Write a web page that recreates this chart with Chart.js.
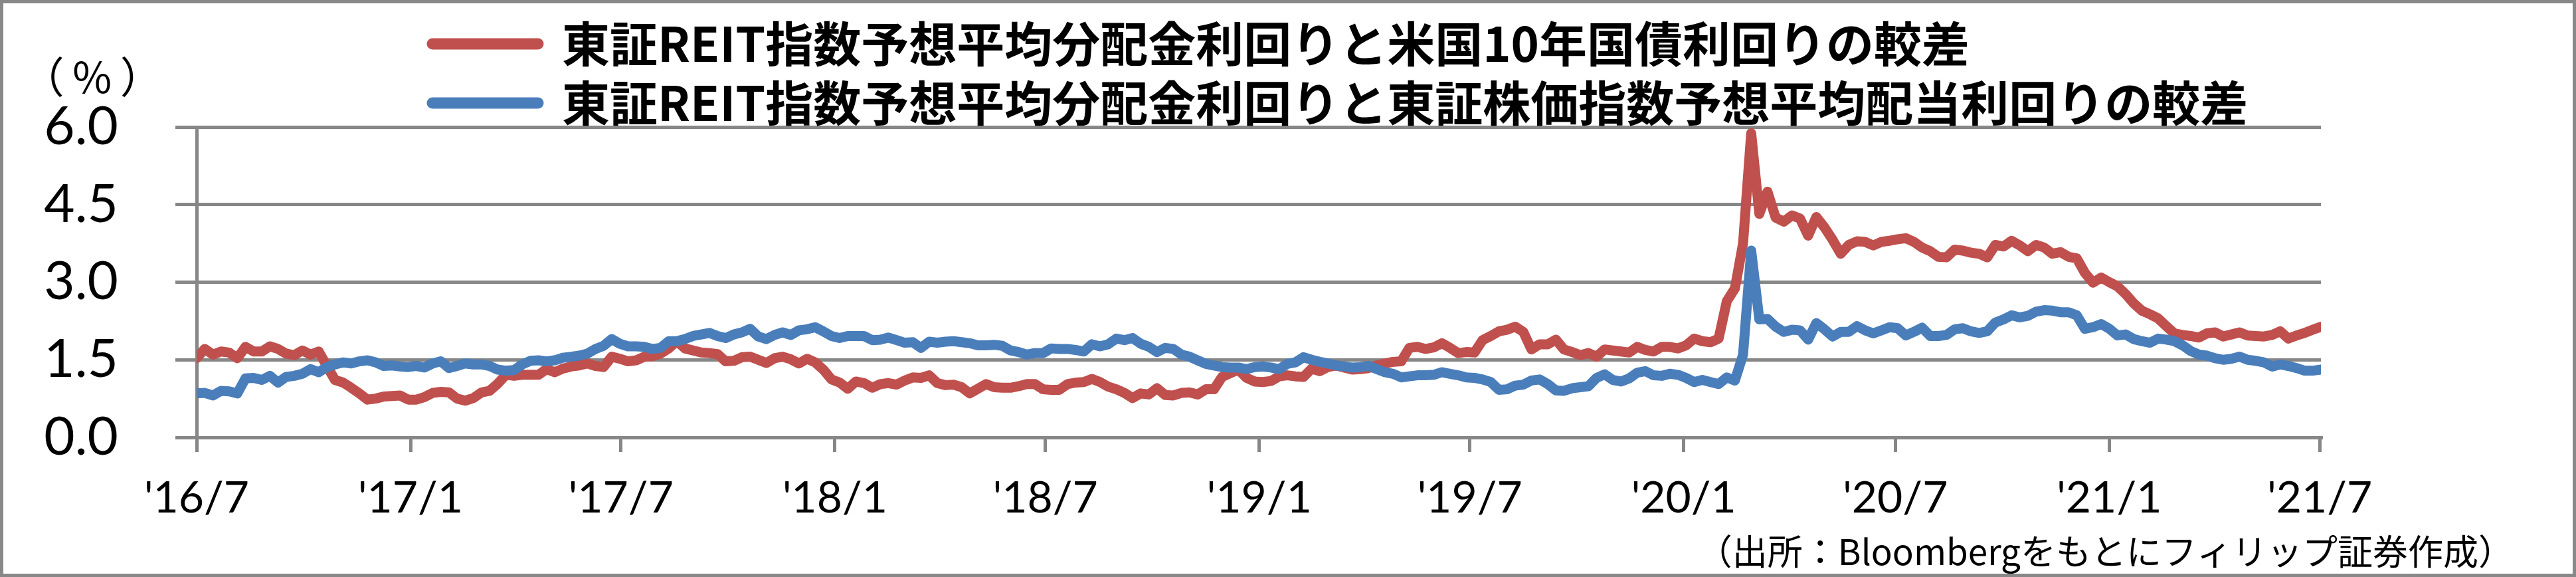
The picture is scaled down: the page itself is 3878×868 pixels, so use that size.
<!DOCTYPE html>
<html>
<head>
<meta charset="utf-8">
<script src="https://cdn.jsdelivr.net/npm/chart.js@4.4.0/dist/chart.umd.min.js"></script>
<style>
html,body{margin:0;padding:0;background:#fff;}
#wrap{position:relative;width:3878px;height:868px;background:#fff;box-shadow:inset 0 0 0 5px #888;}
#c{position:absolute;left:0;top:0;}
</style>
</head>
<body>
<div id="wrap"><canvas id="c" width="3878" height="868"></canvas></div>
<script>
// ---- data (weekly, Friday closes) ----
const dates = [
'2016-07-01','2016-07-08','2016-07-15','2016-07-22','2016-07-29','2016-08-05','2016-08-12','2016-08-19','2016-08-26','2016-09-02','2016-09-09','2016-09-16','2016-09-23','2016-09-30','2016-10-07','2016-10-14','2016-10-21','2016-10-28','2016-11-04','2016-11-11','2016-11-18','2016-11-25','2016-12-02','2016-12-09','2016-12-16','2016-12-23','2016-12-30',
'2017-01-06','2017-01-13','2017-01-20','2017-01-27','2017-02-03','2017-02-10','2017-02-17','2017-02-24','2017-03-03','2017-03-10','2017-03-17','2017-03-24','2017-03-31','2017-04-07','2017-04-14','2017-04-21','2017-04-28','2017-05-05','2017-05-12','2017-05-19','2017-05-26','2017-06-02','2017-06-09','2017-06-16','2017-06-23','2017-06-30','2017-07-07','2017-07-14','2017-07-21','2017-07-28','2017-08-04','2017-08-11','2017-08-18','2017-08-25','2017-09-01','2017-09-08','2017-09-15','2017-09-22','2017-09-29','2017-10-06','2017-10-13','2017-10-20','2017-10-27','2017-11-03','2017-11-10','2017-11-17','2017-11-24','2017-12-01','2017-12-08','2017-12-15','2017-12-22','2017-12-29',
'2018-01-05','2018-01-12','2018-01-19','2018-01-26','2018-02-02','2018-02-09','2018-02-16','2018-02-23','2018-03-02','2018-03-09','2018-03-16','2018-03-23','2018-03-30','2018-04-06','2018-04-13','2018-04-20','2018-04-27','2018-05-04','2018-05-11','2018-05-18','2018-05-25','2018-06-01','2018-06-08','2018-06-15','2018-06-22','2018-06-29','2018-07-06','2018-07-13','2018-07-20','2018-07-27','2018-08-03','2018-08-10','2018-08-17','2018-08-24','2018-08-31','2018-09-07','2018-09-14','2018-09-21','2018-09-28','2018-10-05','2018-10-12','2018-10-19','2018-10-26','2018-11-02','2018-11-09','2018-11-16','2018-11-23','2018-11-30','2018-12-07','2018-12-14','2018-12-21','2018-12-28',
'2019-01-04','2019-01-11','2019-01-18','2019-01-25','2019-02-01','2019-02-08','2019-02-15','2019-02-22','2019-03-01','2019-03-08','2019-03-15','2019-03-22','2019-03-29','2019-04-05','2019-04-12','2019-04-19','2019-04-26','2019-05-03','2019-05-10','2019-05-17','2019-05-24','2019-05-31','2019-06-07','2019-06-14','2019-06-21','2019-06-28','2019-07-05','2019-07-12','2019-07-19','2019-07-26','2019-08-02','2019-08-09','2019-08-16','2019-08-23','2019-08-30','2019-09-06','2019-09-13','2019-09-20','2019-09-27','2019-10-04','2019-10-11','2019-10-18','2019-10-25','2019-11-01','2019-11-08','2019-11-15','2019-11-22','2019-11-29','2019-12-06','2019-12-13','2019-12-20','2019-12-27',
'2020-01-03','2020-01-10','2020-01-17','2020-01-24','2020-01-31','2020-02-07','2020-02-14','2020-02-21','2020-02-28','2020-03-06','2020-03-13','2020-03-20','2020-03-27','2020-04-03','2020-04-10','2020-04-17','2020-04-24','2020-05-01','2020-05-08','2020-05-15','2020-05-22','2020-05-29','2020-06-05','2020-06-12','2020-06-19','2020-06-26','2020-07-03','2020-07-10','2020-07-17','2020-07-24','2020-07-31','2020-08-07','2020-08-14','2020-08-21','2020-08-28','2020-09-04','2020-09-11','2020-09-18','2020-09-25','2020-10-02','2020-10-09','2020-10-16','2020-10-23','2020-10-30','2020-11-06','2020-11-13','2020-11-20','2020-11-27','2020-12-04','2020-12-11','2020-12-18','2020-12-25',
'2021-01-01','2021-01-08','2021-01-15','2021-01-22','2021-01-29','2021-02-05','2021-02-12','2021-02-19','2021-02-26','2021-03-05','2021-03-12','2021-03-19','2021-03-26','2021-04-02','2021-04-09','2021-04-16','2021-04-23','2021-04-30','2021-05-07','2021-05-14','2021-05-21','2021-05-28','2021-06-04','2021-06-11','2021-06-18','2021-06-25','2021-07-02'
];

// 東証REIT予想分配金利回り − 米国10年国債利回り (%)
const spreadVsUST10 = [
1.53,1.71,1.60,1.66,1.64,1.53,1.75,1.66,1.66,1.76,1.71,1.62,1.59,1.68,1.60,1.66,1.38,1.11,1.06,0.96,0.85,0.73,0.75,0.79,0.80,0.81,0.73,0.73,0.78,0.86,0.88,0.87,0.75,0.71,0.76,0.87,0.90,1.04,1.21,1.19,1.21,1.21,1.21,1.32,
1.26,1.33,1.37,1.39,1.43,1.38,1.36,1.56,1.52,1.47,1.49,1.56,1.57,1.62,1.72,1.86,1.72,1.68,1.64,1.63,1.61,1.47,1.48,1.55,1.56,1.50,1.44,1.53,1.56,1.51,1.43,1.52,1.45,1.31,1.12,1.06,0.94,1.08,1.05,0.96,1.03,1.05,1.02,
1.10,1.16,1.15,1.20,1.05,1.01,1.02,0.97,0.85,0.94,1.03,0.97,0.96,0.96,0.99,1.03,1.03,0.93,0.92,0.92,1.03,1.06,1.07,1.13,1.07,0.98,0.93,0.86,0.76,0.85,0.83,0.95,0.82,0.81,0.86,0.87,0.83,0.93,0.93,1.17,1.24,1.31,1.15,1.08,
1.07,1.09,1.18,1.20,1.18,1.17,1.33,1.28,1.36,1.39,1.35,1.31,1.32,1.34,1.39,1.43,1.46,1.47,1.73,1.75,1.71,1.74,1.82,1.73,1.63,1.65,1.64,1.88,1.96,2.05,2.08,2.14,2.04,1.70,1.80,1.80,1.89,1.70,1.65,1.59,1.63,1.56,1.70,1.68,
1.66,1.64,1.75,1.69,1.66,1.75,1.75,1.72,1.78,1.91,1.86,1.84,1.91,2.63,2.88,3.75,5.88,4.32,4.75,4.25,4.17,4.29,4.23,3.90,4.26,4.06,3.82,3.55,3.72,3.79,3.78,3.71,3.78,3.80,3.83,3.85,3.78,3.67,3.60,3.49,3.48,3.63,3.61,
3.57,3.55,3.48,3.72,3.69,3.80,3.71,3.60,3.72,3.67,3.55,3.58,3.49,3.46,3.18,2.99,3.09,3.00,2.92,2.77,2.59,2.45,2.38,2.30,2.15,2.01,1.98,1.96,1.93,2.01,2.03,1.95,1.99,2.03,1.97,1.96,1.95,1.98,2.05,1.91,1.97,2.02,2.08,2.14
];

// 東証REIT予想分配金利回り − 東証株価指数予想配当利回り (%)
const spreadVsTopix = [
0.85,0.86,0.81,0.90,0.89,0.85,1.14,1.15,1.11,1.19,1.06,1.17,1.19,1.23,1.32,1.26,1.36,1.41,1.45,1.43,1.47,1.49,1.45,1.38,1.39,1.37,1.36,1.38,1.35,1.43,1.47,1.34,1.38,1.43,1.41,1.41,1.38,1.31,1.29,1.30,1.41,1.48,1.49,1.47,
1.49,1.54,1.56,1.58,1.62,1.71,1.77,1.90,1.81,1.76,1.76,1.75,1.71,1.73,1.86,1.86,1.90,1.96,1.99,2.02,1.96,1.92,1.99,2.03,2.10,1.95,1.90,1.98,2.03,1.98,2.07,2.09,2.13,2.05,1.96,1.92,1.96,1.96,1.96,1.88,1.89,1.93,1.88,
1.83,1.84,1.73,1.85,1.83,1.85,1.86,1.84,1.82,1.78,1.78,1.79,1.77,1.68,1.65,1.60,1.63,1.63,1.72,1.71,1.71,1.69,1.66,1.80,1.76,1.80,1.91,1.88,1.92,1.81,1.75,1.65,1.73,1.71,1.60,1.56,1.49,1.42,1.39,1.36,1.35,1.35,1.32,1.36,
1.37,1.35,1.32,1.42,1.45,1.55,1.50,1.46,1.43,1.39,1.37,1.35,1.36,1.38,1.32,1.26,1.23,1.16,1.18,1.20,1.20,1.21,1.26,1.23,1.20,1.16,1.15,1.12,1.07,0.92,0.93,1.00,1.02,1.10,1.12,1.03,0.91,0.90,0.95,0.97,0.99,1.15,1.22,1.11,
1.08,1.14,1.25,1.28,1.20,1.19,1.23,1.21,1.15,1.07,1.11,1.07,1.03,1.16,1.10,1.60,3.61,2.28,2.29,2.14,2.04,2.08,2.07,1.89,2.21,2.09,1.95,2.04,2.04,2.15,2.07,2.01,2.07,2.13,2.11,1.97,2.04,2.12,1.96,1.96,1.98,2.09,2.11,
2.05,2.02,2.05,2.22,2.28,2.36,2.32,2.35,2.43,2.46,2.45,2.42,2.42,2.36,2.10,2.13,2.19,2.10,1.97,1.99,1.90,1.86,1.83,1.91,1.89,1.86,1.78,1.67,1.60,1.58,1.53,1.50,1.52,1.56,1.50,1.48,1.45,1.37,1.41,1.38,1.34,1.29,1.29,1.31
];

const seriesNames = [
  '東証REIT指数予想平均分配金利回りと米国10年国債利回りの較差',
  '東証REIT指数予想平均分配金利回りと東証株価指数予想平均配当利回りの較差'
];
const seriesColors = ['#C0504D', '#4A7EBB'];

const xTickDates  = ['2016-07-01','2017-01-01','2017-07-01','2018-01-01','2018-07-01','2019-01-01','2019-07-01','2020-01-01','2020-07-01','2021-01-01','2021-07-01'];
const xTickLabels = ["'16/7","'17/1","'17/7","'18/1","'18/7","'19/1","'19/7","'20/1","'20/7","'21/1","'21/7"];
const yTicks = [0, 1.5, 3.0, 4.5, 6.0];
const yUnitLabel = '（%）';
const sourceNote = '（出所：Bloombergをもとにフィリップ証券作成）';

// ---- helpers ----
const ORIGIN = Date.UTC(2016, 6, 1);
function dayOf(s) {
  const [y, m, d] = s.split('-').map(Number);
  return (Date.UTC(y, m - 1, d) - ORIGIN) / 86400000;
}
const xDays = dates.map(dayOf);
const xTickDays = xTickDates.map(dayOf);
const pts = vals => vals.map((v, i) => ({ x: xDays[i], y: v }));

const GRID = '#878787';

const extrasPlugin = {
  id: 'extras',
  afterLayout(chart) {
    const lg = chart.legend;
    if (lg) { lg.left = 634; lg.top = 13; lg.right = 3878; lg.bottom = 868; }
  },
  afterDraw(chart) {
    const ctx = chart.ctx;
    ctx.save();
    ctx.fillStyle = '#000';
    ctx.textBaseline = 'middle';
    ctx.textAlign = 'center';
    // unit label above the value axis
    ctx.font = '64px "Noto Sans CJK JP"';
    const m = ctx.measureText(yUnitLabel);
    const ink = m.actualBoundingBoxLeft + m.actualBoundingBoxRight;
    if ('letterSpacing' in ctx && ink < 124) {
      ctx.letterSpacing = ((124 - ink) / 2).toFixed(1) + 'px';
    }
    ctx.fillText(yUnitLabel, 145, 116);
    if ('letterSpacing' in ctx) ctx.letterSpacing = '0px';
    // source note
    ctx.textAlign = 'right';
    ctx.font = '53px "Noto Sans CJK JP"';
    ctx.fillText(sourceNote, 3784, 830);
    ctx.restore();
  }
};

function build() {
  new Chart(document.getElementById('c'), {
    type: 'line',
    data: {
      datasets: [
        { label: seriesNames[0], data: pts(spreadVsUST10), borderColor: seriesColors[0], backgroundColor: seriesColors[0],
          borderWidth: 15, pointRadius: 0, tension: 0, borderJoinStyle: 'round', borderCapStyle: 'round', order: 1 },
        { label: seriesNames[1], data: pts(spreadVsTopix), borderColor: seriesColors[1], backgroundColor: seriesColors[1],
          borderWidth: 15, pointRadius: 0, tension: 0, borderJoinStyle: 'round', borderCapStyle: 'round', order: 0 }
      ]
    },
    options: {
      responsive: false,
      animation: false,
      devicePixelRatio: 1,
      layout: { padding: { left: 0, right: 384, top: 191, bottom: 0 } },
      plugins: {
        tooltip: { enabled: false },
        title: { display: false },
        legend: {
          display: true,
          position: 'chartArea',
          align: 'start',
          labels: {
            usePointStyle: true,
            pointStyleWidth: 159,
            padding: 17,
            color: '#000',
            font: { family: '"Noto Sans CJK JP"', size: 72, weight: 'bold' },
            generateLabels(chart) {
              return chart.data.datasets.map((ds, i) => ({
                text: ds.label, fillStyle: ds.borderColor, strokeStyle: ds.borderColor,
                lineWidth: 17, lineCap: 'round', pointStyle: 'line', datasetIndex: i,
                hidden: false, fontColor: '#000'
              }));
            }
          }
        }
      },
      scales: {
        x: {
          type: 'linear',
          min: 0,
          max: xDays[xDays.length - 1],
          grid: { drawOnChartArea: false, drawTicks: true, tickLength: 22, color: GRID, lineWidth: 5 },
          border: { display: true, color: GRID, width: 5 },
          ticks: {
            autoSkip: false, maxRotation: 0, minRotation: 0, padding: 30, color: '#000',
            font: { family: 'Lato', size: 66 },
            callback: (v, i) => xTickLabels[i]
          },
          afterBuildTicks: s => { s.ticks = xTickDays.map(v => ({ value: v })); },
          afterFit: s => { s.height = 210; }
        },
        y: {
          min: 0, max: 6,
          grid: { color: GRID, lineWidth: 5, tickLength: 32, drawTicks: true },
          border: { display: true, color: GRID, width: 5 },
          ticks: {
            padding: 86, color: '#000',
            font: { family: 'Lato', size: 80 },
            callback: v => Number(v).toFixed(1)
          },
          afterBuildTicks: s => { s.ticks = yTicks.map(v => ({ value: v })); },
          afterFit: s => { s.width = 296; }
        }
      }
    },
    plugins: [extrasPlugin]
  });
}

const fontLoads = [
  '72px "Noto Sans CJK JP"', 'bold 72px "Noto Sans CJK JP"', '66px Lato', '80px Lato'
].map(f => document.fonts.load(f, '東証REIT0123456789').catch(() => null));
Promise.race([Promise.all(fontLoads), new Promise(r => setTimeout(r, 1500))]).then(build);
</script>
</body>
</html>
